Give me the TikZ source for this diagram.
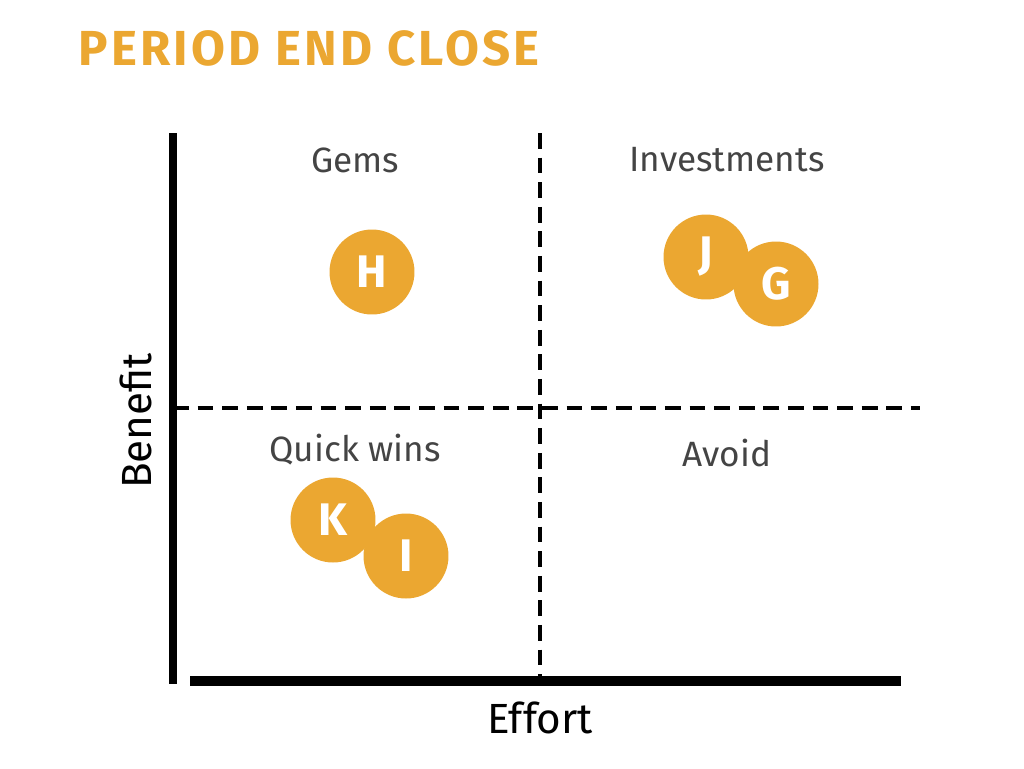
\documentclass[tikz,border=0pt]{standalone}
\usepackage{fontspec}
\setmainfont{Fira Sans}
\newfontfamily\titlefont[LetterSpace=6.5]{Fira Sans}
\definecolor{closeorange}{HTML}{EBA731}
\definecolor{labelgray}{HTML}{444444}
\tikzset{
	item/.style={circle, fill=closeorange, minimum size=1.7cm, inner sep=0pt, text=white, font=\fontsize{26}{26}\selectfont\bfseries},
	quad/.style={text=labelgray, font=\fontsize{20}{20}\selectfont},
	axislabel/.style={text=black, font=\fontsize{24}{24}\selectfont},
}
\begin{document}
\begin{tikzpicture}[x=0.02cm, y=-0.02cm]
		\useasboundingbox (0,0) rectangle (1024,768);
		\node[anchor=west, inner sep=0pt, text=closeorange, font=\titlefont\fontsize{28}{28}\selectfont\bfseries] (title) at (78,48) {PERIOD END CLOSE};
		% axes
		\draw[line width=5pt] (173,133) -- (173,684);
		\draw[line width=5.5pt] (190,681) -- (901,681);
		\draw[dashed, line width=2pt, dash pattern=on 9pt off 5pt] (540,133) -- (540,680);
		\draw[dashed, line width=2pt, dash pattern=on 9pt off 5pt] (173,408) -- (920,408);
		\node[axislabel, rotate=90] (benefit) at (136,421) {Benefit};
		\node[axislabel] (effort) at (540,718) {Effort};
		% quadrants
		\node[quad] (gems) at (355,160) {Gems};
		\node[quad] (invest) at (727,160) {Investments};
		\node[quad] (quick) at (355,450) {Quick wins};
		\node[quad] (avoid) at (727,453) {Avoid};
		% items
		\node[item] (H) at (372,272) {H};
		\node[item] (J) at (706,257) {J};
		\node[item] (G) at (776,284) {G};
		\node[item] (K) at (333,520) {K};
		\node[item] (I) at (406,556) {I};
		\end{tikzpicture}
\end{document}
